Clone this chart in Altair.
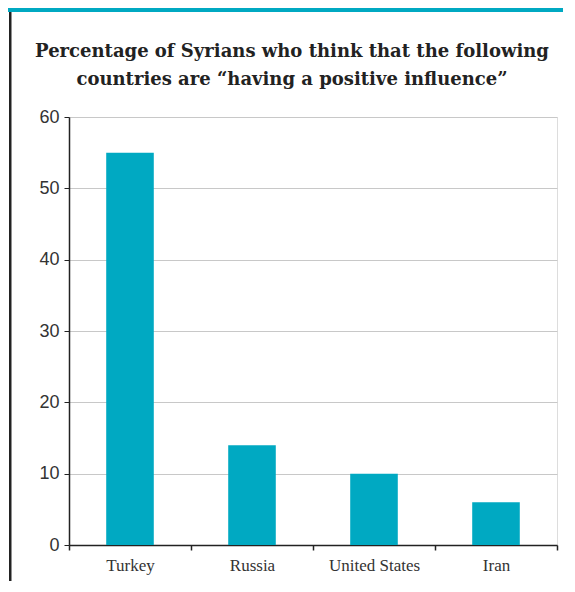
import altair as alt
import pandas as pd

countries = ["Turkey", "Russia", "United States", "Iran"]
values = [55, 14, 10, 6]
title_lines = ["Percentage of Syrians who think that the following",
               "countries are \u201chaving a positive influence\u201d"]

df = pd.DataFrame({"country": countries, "value": values})
teal = "#00A9C2"

W, H = 488, 428

bars = alt.Chart(df).mark_bar(color=teal, width=alt.RelativeBandSize(0.39)).encode(
    x=alt.X("country:N", sort=countries, title=None,
            scale=alt.Scale(paddingInner=0, paddingOuter=0),
            axis=alt.Axis(labelAngle=0, tickBand="extent", labelFont="Liberation Serif",
                          labelFontSize=17, labelColor="#333", labelPadding=7,
                          domainColor="#222", domainWidth=1.5, tickColor="#222",
                          tickSize=5, tickWidth=1.5, grid=False)),
    y=alt.Y("value:Q", title=None,
            scale=alt.Scale(domain=[0, 60], nice=False),
            axis=alt.Axis(values=[0, 10, 20, 30, 40, 50, 60], labelFont="Liberation Sans",
                          labelFontSize=18, labelColor="#333", labelPadding=5,
                          domainColor="#222", domainWidth=1.5, tickColor="#222",
                          tickSize=5, tickWidth=1, grid=True, gridColor="#c8c8c8",
                          gridWidth=1)),
)

header = alt.Chart(pd.DataFrame({"a": [0]})).mark_rect(color=teal, clip=False).encode(
    x=alt.value(-61), x2=alt.value(W + 6), y=alt.value(-109), y2=alt.value(-105))

border = alt.Chart(pd.DataFrame({"a": [0]})).mark_rect(color="#222", clip=False).encode(
    x=alt.value(-60), x2=alt.value(-57.5), y=alt.value(-105), y2=alt.value(H + 36))

tdf = pd.DataFrame({"t": title_lines, "yy": [-60, -32]})
title = alt.Chart(tdf).mark_text(font="DejaVu Serif", fontSize=18, fontWeight="bold",
                                 color="#222", align="center", baseline="alphabetic",
                                 clip=False).encode(
    text="t:N", x=alt.value(223), y=alt.Y("yy:Q", scale=None))

chart = alt.layer(header, border, title, bars).properties(
    width=W, height=H,
    autosize=alt.AutoSizeParams(type="none"),
    padding={"left": 61, "top": 109, "right": 6, "bottom": 36},
).configure_view(stroke=None).configure(background="white")

chart.save("out.html", embed_options={"renderer": "svg", "actions": False})
